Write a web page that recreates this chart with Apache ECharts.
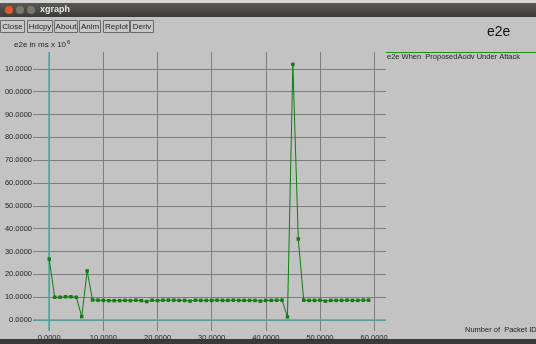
<!DOCTYPE html>
<html><head><meta charset="utf-8">
<script src="https://cdn.jsdelivr.net/npm/echarts@6/dist/echarts.min.js"></script>
<style>html,body{margin:0;padding:0;background:#c3c3c3;}#c{width:536px;height:344px;}</style>
</head><body><div id="c"></div>
<script>
// ---- data ----
var packetIds = [];
for (var i = 0; i < 60; i++) packetIds.push(i);
var e2eValues = [
  26.7, 10.0, 10.0, 10.2, 10.2, 10.0, 1.5, 21.5, 8.8, 8.7,
  8.6, 8.5, 8.5, 8.5, 8.6, 8.5, 8.7, 8.5, 8.1, 8.7,
  8.5, 8.7, 8.7, 8.7, 8.6, 8.6, 8.3, 8.7, 8.6, 8.6,
  8.6, 8.7, 8.6, 8.6, 8.7, 8.6, 8.6, 8.6, 8.6, 8.3,
  8.6, 8.6, 8.7, 8.7, 1.4, 112.0, 35.5, 8.7, 8.6, 8.6,
  8.7, 8.3, 8.6, 8.6, 8.6, 8.7, 8.6, 8.6, 8.7, 8.7
];
var xTickValues = [0, 10, 20, 30, 40, 50, 60];
var xTickLabels = ['0.0000', '10.0000', '20.0000', '30.0000', '40.0000', '50.0000', '60.0000'];
var yTickValues = [0, 10, 20, 30, 40, 50, 60, 70, 80, 90, 100, 110];
var yTickLabels = ['0.0000', '10.0000', '20.0000', '30.0000', '40.0000', '50.0000', '60.0000', '70.0000', '80.0000', '90.0000', '00.0000', '10.0000'];
var buttonLabels = ['Close', 'Hdcpy', 'About', 'Anim', 'Replot', 'Deriv'];
var seriesName = 'e2e When  ProposedAodv Under Attack';

var FONT = 'Liberation Sans, Arial, sans-serif';
var GRID = '#7e7e7e';
var TEAL = '#4fa8a2';
var GREEN = '#137c13';

var chart = echarts.init(document.getElementById('c'), null, {renderer: 'canvas'});

// window chrome
var graphics = [
  {type: 'rect', shape: {x: 0, y: 0, width: 536, height: 3}, style: {fill: '#d6d6d6'}},
  {type: 'rect', shape: {x: 0, y: 3, width: 536, height: 14},
   style: {fill: new echarts.graphic.LinearGradient(0, 0, 0, 1, [{offset: 0, color: '#5a5954'}, {offset: 1, color: '#3c3b37'}])}},
  {type: 'circle', shape: {cx: 9, cy: 10, r: 4}, style: {fill: '#e25a2c'}},
  {type: 'circle', shape: {cx: 20, cy: 10, r: 4}, style: {fill: '#77766f'}},
  {type: 'circle', shape: {cx: 31, cy: 10, r: 4}, style: {fill: '#77766f'}},
  {type: 'text', x: 40, y: 10, style: {text: 'xgraph', fill: '#e8e8e8', font: 'bold 9px ' + FONT, textVerticalAlign: 'middle'}},
  {type: 'rect', shape: {x: 0, y: 339, width: 536, height: 5}, style: {fill: '#3a3a3a'}}
];
var btnX = [0, 27, 54, 79, 103, 130];
var btnW = [24, 25, 23, 21, 26, 23];
for (var b = 0; b < buttonLabels.length; b++) {
  graphics.push({type: 'rect', shape: {x: btnX[b] + 0.5, y: 20.5, width: btnW[b], height: 12},
    style: {fill: '#c8c8c8', stroke: '#6a6a6a', lineWidth: 1}});
  graphics.push({type: 'text', x: btnX[b] + btnW[b] / 2 + 0.5, y: 27,
    style: {text: buttonLabels[b], fill: '#222', font: '8px ' + FONT, textAlign: 'center', textVerticalAlign: 'middle'}});
}
// axis titles & legend
graphics.push({type: 'text', x: 14, y: 44, style: {
  text: '{a|e2e in ms x 10}{s|6}', verticalAlign: 'middle',
  rich: {a: {fill: '#222', fontSize: 8, fontFamily: FONT, verticalAlign: 'bottom'},
         s: {fill: '#222', fontSize: 6, fontFamily: FONT, verticalAlign: 'top', padding: [0, 0, 4, 1]}}
}});
graphics.push({type: 'text', x: 487, y: 32, style: {text: 'e2e', fill: '#111', font: '14px ' + FONT, textVerticalAlign: 'middle'}});
graphics.push({type: 'line', shape: {x1: 386, y1: 52.5, x2: 536, y2: 52.5}, style: {stroke: '#1f8f1f', lineWidth: 1}});
graphics.push({type: 'text', x: 387, y: 57, style: {text: seriesName, fill: '#222', font: '7.5px ' + FONT, textVerticalAlign: 'middle'}});
graphics.push({type: 'text', x: 465, y: 330, style: {text: 'Number of  Packet ID', fill: '#222', font: '7.5px ' + FONT, textVerticalAlign: 'middle'}});

var option = {
  backgroundColor: '#c3c3c3',
  animation: false,
  grid: {left: 33, right: 150, top: 52, bottom: 13, containLabel: false},
  xAxis: {
    type: 'value', min: -3, max: 62.2,
    axisLine: {show: false},
    axisTick: {show: false, customValues: xTickValues},
    splitLine: {show: true, lineStyle: {color: GRID, width: 1}},
    axisLabel: {customValues: xTickValues, margin: 3, color: '#222', fontSize: 7.5, fontFamily: FONT,
      formatter: function (v) { return xTickLabels[xTickValues.indexOf(v)]; }}
  },
  yAxis: {
    type: 'value', min: -4.8, max: 117.4,
    axisLine: {show: false},
    axisTick: {show: false, customValues: yTickValues},
    splitLine: {show: true, lineStyle: {color: GRID, width: 1}},
    axisLabel: {customValues: yTickValues, margin: 1, color: '#222', fontSize: 7.5, fontFamily: FONT,
      formatter: function (v) { return yTickLabels[yTickValues.indexOf(v)]; }}
  },
  series: [{
    name: seriesName,
    type: 'line',
    data: packetIds.map(function (x, i) { return [x, e2eValues[i]]; }),
    symbol: 'rect', symbolSize: 3.5, showSymbol: true,
    lineStyle: {color: GREEN, width: 1},
    itemStyle: {color: GREEN},
    z: 5,
    markLine: {
      silent: true, symbol: 'none', animation: false,
      label: {show: false},
      lineStyle: {color: TEAL, width: 1.5, type: 'solid'},
      data: [{xAxis: 0}, {yAxis: 0}]
    }
  }],
  graphic: graphics
};
chart.setOption(option);
</script></body></html>
